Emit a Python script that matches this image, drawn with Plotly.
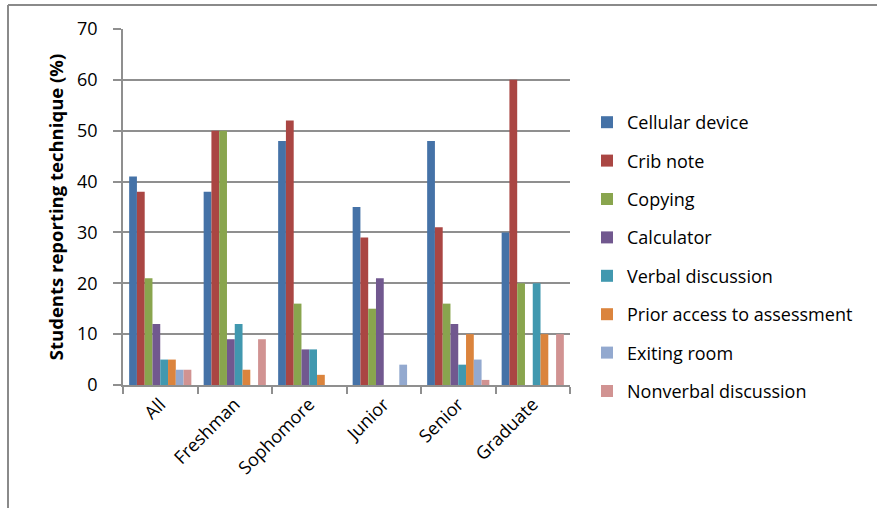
import plotly.graph_objects as go

# Student groups on the category axis
groups = ["All", "Freshman", "Sophomore", "Junior", "Senior", "Graduate"]

# Percent of students reporting each technique, per group
cellular_device = [41, 38, 48, 35, 48, 30]
crib_note = [38, 50, 52, 29, 31, 60]
copying = [21, 50, 16, 15, 16, 20]
calculator = [12, 9, 7, 21, 12, 0]
verbal_discussion = [5, 12, 7, 0, 4, 20]
prior_access = [5, 3, 2, 0, 10, 10]
exiting_room = [3, 0, 0, 4, 5, 0]
nonverbal_discussion = [3, 9, 0, 0, 1, 10]

series = [
    ("Cellular device", cellular_device, "#4572A7"),
    ("Crib note", crib_note, "#AA4643"),
    ("Copying", copying, "#89A54E"),
    ("Calculator", calculator, "#71588F"),
    ("Verbal discussion", verbal_discussion, "#4198AF"),
    ("Prior access to assessment", prior_access, "#DB843D"),
    ("Exiting room", exiting_room, "#93A9CF"),
    ("Nonverbal discussion", nonverbal_discussion, "#D19392"),
]

FONT = "Open Sans, Liberation Sans, sans-serif"
GRID = "#8f8f8f"
FS = 18

fig = go.Figure()
for name, values, color in series:
    fig.add_trace(go.Bar(
        x=groups, y=values, name=name, legendgroup=name,
        marker=dict(color=color, line=dict(width=0)),
    ))

W, H = 877, 508
ML, MR, MT, MB = 123, 307, 29, 123
pw, ph = W - ML - MR, H - MT - MB

def px_x(x):
    return (x - ML) / pw

def px_y(y):
    return 1 - (y - MT) / ph

fig.update_layout(
    width=W, height=H,
    margin=dict(l=ML, r=MR, t=MT, b=MB, autoexpand=False),
    paper_bgcolor="white", plot_bgcolor="white",
    barmode="group", bargap=0.165, bargroupgap=0,
    font=dict(family=FONT, size=FS, color="#000000"),
    showlegend=True,
    legend=dict(
        x=px_x(587), y=px_y(104), xanchor="left", yanchor="top",
        font=dict(family=FONT, size=FS, color="#000000"),
        tracegroupgap=12, itemwidth=30,
        bgcolor="rgba(0,0,0,0)",
    ),
    xaxis=dict(
        type="category", tickangle=-45, tickson="boundaries",
        ticks="outside", ticklen=7, tickcolor=GRID, tickwidth=1.5,
        showline=True, linecolor=GRID, linewidth=1.5,
        showgrid=False, automargin=False,
        tickfont=dict(family=FONT, size=FS, color="#000000"),
    ),
    yaxis=dict(
        range=[0, 70], dtick=10, tick0=0,
        ticks="outside", ticklen=8, tickcolor=GRID, tickwidth=1.5,
        ticklabelstandoff=12,
        showline=True, linecolor=GRID, linewidth=1.5,
        showgrid=True, gridcolor=GRID, gridwidth=1.5,
        zeroline=False, automargin=False,
        tickfont=dict(family=FONT, size=FS, color="#000000"),
        title=dict(
            text="<b>Students reporting technique (%)</b>",
            font=dict(family=FONT, size=18.5, color="#000000"),
            standoff=9,
        ),
    ),
    shapes=[
        # chart frame: top and left edges
        dict(type="line", xref="paper", yref="paper",
             x0=px_x(8), x1=px_x(W + 5), y0=px_y(5), y1=px_y(5),
             line=dict(color="#8a8a8a", width=2)),
        dict(type="line", xref="paper", yref="paper",
             x0=px_x(8), x1=px_x(8), y0=px_y(5), y1=px_y(H + 5),
             line=dict(color="#8a8a8a", width=2)),
    ],
)

fig.write_html("out.html")
